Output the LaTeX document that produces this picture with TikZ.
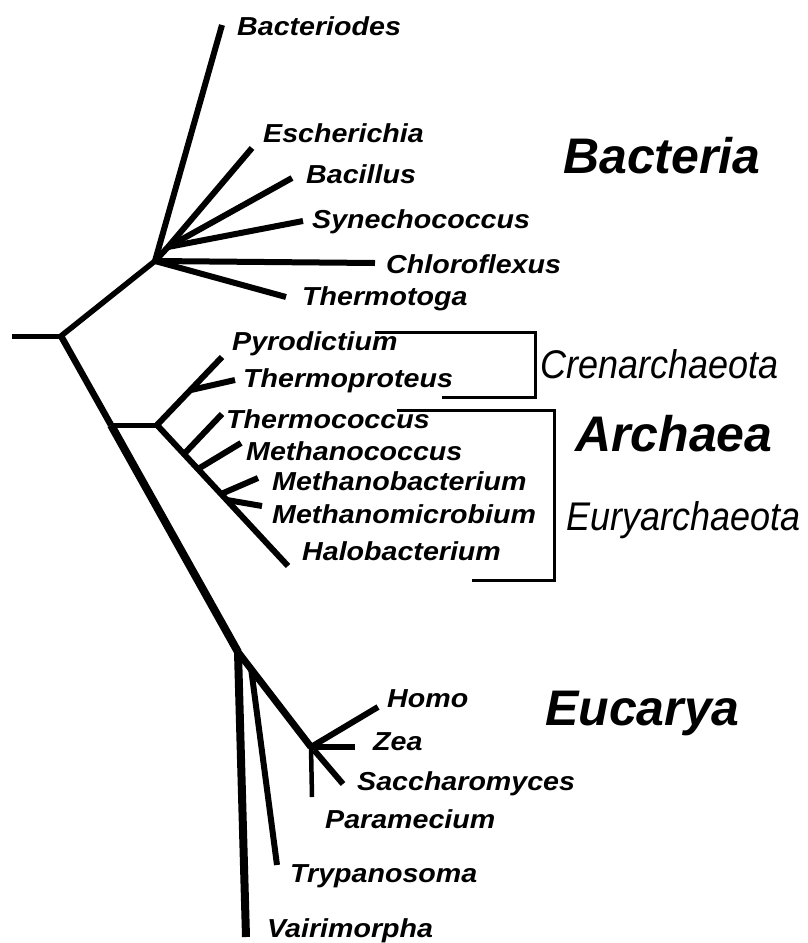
\documentclass[tikz,border=0pt]{standalone}
\usepackage{fontspec}
\setmainfont{Liberation Sans}
\begin{document}
\begin{tikzpicture}[x=1pt,y=-1pt,
  sp/.style={anchor=base west,inner sep=0pt,xscale=1.1,font=\fontsize{26}{28}\selectfont\bfseries\itshape},
  grp/.style={anchor=base west,inner sep=0pt,font=\fontsize{50}{54}\selectfont\bfseries\itshape},
  sub/.style={anchor=base west,inner sep=0pt,xscale=0.9,font=\fontsize{40}{44}\selectfont\itshape},
  br/.style={line width=6pt},
  trunk/.style={line width=8pt},
  brk/.style={line width=3pt}]
\useasboundingbox (0,0) rectangle (807,943);
% junctions and tips
\coordinate (r0) at (12,336);
\coordinate (r) at (61,336);
\coordinate (jb) at (155,261);
\coordinate (jb2) at (168,247);
\coordinate (ja) at (111,425);
\coordinate (ja2) at (157,425);
\coordinate (jc) at (191,390);
\coordinate (je) at (238,652);
\coordinate (je2) at (311,747);
\coordinate (tBac) at (222,25);
\coordinate (tEsc) at (252,148);
\coordinate (tBacil) at (292,178);
\coordinate (tSyn) at (303,221);
\coordinate (tChl) at (375,263);
\coordinate (tThg) at (286,297);
\coordinate (tPyr) at (222,357);
\coordinate (tThp) at (235,380);
\coordinate (tHal) at (288,566);
\coordinate (eTc) at (184,454);
\coordinate (tTc) at (222,414);
\coordinate (eMc) at (198,469);
\coordinate (tMc) at (241,443);
\coordinate (eMb) at (221,494);
\coordinate (tMb) at (258,478);
\coordinate (eMm) at (227,500);
\coordinate (tMm) at (262,506);
\coordinate (tVai) at (246,937);
\coordinate (eTry) at (251,668);
\coordinate (tTry) at (277,865);
\coordinate (tHom) at (378,707);
\coordinate (tZea) at (355,747);
\coordinate (eSac) at (314,750);
\coordinate (tSac) at (343,784);
\coordinate (tPar) at (312,797);
% root and trunk
\draw[line width=5pt] (r0) -- (r);
\draw[line width=5.5pt] (r) -- (jb);
\draw[line width=6.5pt] (r) -- (ja);
\draw[trunk] (ja) -- (je);
% bacteria
\draw[br] (jb) -- (tBac);
\draw[br] (jb) -- (jb2) -- (tEsc);
\draw[br] (jb2) -- (tBacil);
\draw[br] (jb2) -- (tSyn);
\draw[br] (jb) -- (tChl);
\draw[br] (jb) -- (tThg);
% archaea
\draw[line width=5pt] (ja) -- (ja2);
\draw[br] (ja2) -- (tPyr);
\draw[br] (jc) -- (tThp);
\draw[br] (ja2) -- (tHal);
\draw[br] (eTc) -- (tTc);
\draw[br] (eMc) -- (tMc);
\draw[br] (eMb) -- (tMb);
\draw[br] (eMm) -- (tMm);
% eucarya
\draw[line width=8pt] (je) -- (tVai);
\draw[br] (eTry) -- (tTry);
\draw[line width=7pt] (je) -- (je2);
\draw[br] (je2) -- (tHom);
\draw[br] (je2) -- (tZea);
\draw[br] (eSac) -- (tSac);
\draw[line width=4.5pt] (je2) -- (tPar);
% brackets
\coordinate (c1) at (375,332);
\coordinate (c2) at (535,332);
\coordinate (c3) at (535,397);
\coordinate (c4) at (442,397);
\draw[brk] (c1) -- (c2) -- (c3) -- (c4);
\coordinate (u1) at (397,410);
\coordinate (u2) at (554,410);
\coordinate (u3) at (554,580);
\coordinate (u4) at (472,580);
\draw[brk] (u1) -- (u2) -- (u3) -- (u4);
% species labels
\node[sp] (lBac) at (237,35) {Bacteriodes};
\node[sp] (lEsc) at (263,142) {Escherichia};
\node[sp] (lBacil) at (306,183) {Bacillus};
\node[sp] (lSyn) at (312,228) {Synechococcus};
\node[sp] (lChl) at (386,273) {Chloroflexus};
\node[sp] (lThg) at (302,305) {Thermotoga};
\node[sp] (lPyr) at (232,350) {Pyrodictium};
\node[sp] (lThp) at (243,387) {Thermoproteus};
\node[sp] (lTc) at (226,428) {Thermococcus};
\node[sp] (lMc) at (246,460) {Methanococcus};
\node[sp] (lMb) at (272,490) {Methanobacterium};
\node[sp] (lMm) at (272,523) {Methanomicrobium};
\node[sp] (lHal) at (302,560) {Halobacterium};
\node[sp] (lHom) at (387,707) {Homo};
\node[sp] (lZea) at (373,750) {Zea};
\node[sp] (lSac) at (357,790) {Saccharomyces};
\node[sp] (lPar) at (325,828) {Paramecium};
\node[sp] (lTry) at (290,882) {Trypanosoma};
\node[sp] (lVai) at (267,937) {Vairimorpha};
% group labels
\node[grp] (gB) at (563,173) {Bacteria};
\node[grp] (gA) at (575,451) {Archaea};
\node[grp] (gE) at (545,725) {Eucarya};
\node[sub] (gC) at (540,378) {Crenarchaeota};
\node[sub] (gU) at (566,530) {Euryarchaeota};
\end{tikzpicture}
\end{document}
